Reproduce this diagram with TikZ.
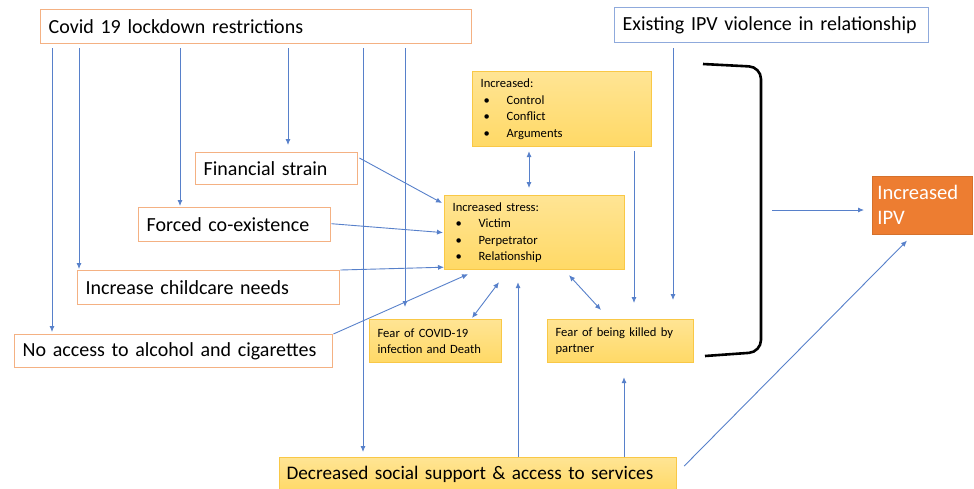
\documentclass[tikz,border=0pt]{standalone}
\usepackage{fontspec}
\setmainfont{Carlito}
\usepackage{tikz}
\usetikzlibrary{arrows.meta,positioning,calc}
\definecolor{linkblue}{HTML}{4472C4}
\definecolor{causeline}{HTML}{F4B183}
\definecolor{priorline}{HTML}{8FAADC}
\definecolor{factorfill}{HTML}{FFD966}
\definecolor{factorline}{HTML}{F9C846}
\definecolor{ipvfill}{HTML}{ED7D31}
\newcommand{\bitem}[1]{\hspace*{1.5pt}\makebox[11.5pt][l]{\textbullet}#1}

\begin{document}
\begin{tikzpicture}[
    x=0.5pt, y=-0.5pt,
    cause/.style={rectangle, draw=causeline, line width=0.7pt, fill=white, anchor=north west,
                  inner xsep=4pt, inner ysep=0pt, align=left, font=\fontsize{10}{12}\selectfont},
    factor/.style={rectangle, draw=factorline, line width=0.6pt, top color=factorfill!70,
                   bottom color=factorfill, anchor=north west, inner xsep=4pt, inner ysep=0pt,
                   align=left, font=\fontsize{6.3}{8.3}\selectfont},
    arrow/.style={-{Latex[length=3pt,width=2.6pt]}, linkblue!90, line width=0.45pt},
    dblarrow/.style={{Latex[length=3pt,width=2.6pt]}-{Latex[length=3pt,width=2.6pt]}, linkblue!90, line width=0.45pt}
]
\useasboundingbox (0,0) rectangle (974,488);

% causes from the lockdown
\node[cause, minimum width=215.5pt, minimum height=17pt, text width=207.5pt] (covid) at (40,9) {Covid 19 lockdown restrictions};
\node[cause, draw=priorline, minimum width=157pt, minimum height=17.5pt, text width=149pt] (prior) at (614,7) {Existing IPV violence in relationship};
\node[cause, minimum width=81pt, minimum height=16pt, text width=73pt] (finance) at (195,152) {Financial strain};
\node[cause, minimum width=96pt, minimum height=17pt, text width=88pt] (forced) at (138,207) {Forced co-existence};
\node[cause, minimum width=131pt, minimum height=17pt, text width=123pt] (childcare) at (77,270) {Increase childcare needs};
\node[cause, minimum width=159pt, minimum height=16.5pt, text width=151pt] (noaccess) at (14,334) {No access to alcohol and cigarettes};

% yellow factors
\node[factor, minimum width=89.5pt, minimum height=37.5pt, text width=81.5pt] (conflict) at (472,71)
    {Increased:\\\bitem{Control}\\\bitem{Conflict}\\\bitem{Arguments}};
\node[factor, minimum width=90pt, minimum height=37pt, text width=82pt] (stress) at (444,195)
    {Increased stress:\\\bitem{Victim}\\\bitem{Perpetrator}\\\bitem{Relationship}};
\node[factor, minimum width=66pt, minimum height=21.5pt, text width=58pt] (fearcovid) at (369,319)
    {Fear of COVID-19\\infection and Death};
\node[factor, minimum width=73pt, minimum height=21.5pt, text width=65pt] (fearkill) at (547,319)
    {Fear of being killed by\\partner};
\node[factor, minimum width=198.5pt, minimum height=17pt, text width=191.5pt, inner xsep=3.5pt,
      font=\fontsize{9.6}{12}\selectfont] (support) at (279,457) {Decreased social support \& access to services};
\node[rectangle, fill=ipvfill, draw=ipvfill!90!black, line width=0.3pt, anchor=north west, minimum width=49.5pt,
      minimum height=29pt, text width=45pt, inner xsep=2.5pt, inner ysep=0pt, align=left, text=white,
      font=\fontsize{10.3}{12.5}\selectfont] (ipv) at (872,176) {Increased\\IPV};

% drops from the lockdown box
\coordinate (c1) at ($(covid.south west)+(12,4)$);
\coordinate (c2) at ($(covid.south west)+(39,4)$);
\coordinate (c3) at ($(covid.south west)+(140,4)$);
\coordinate (c4) at ($(covid.south west)+(248,4)$);
\coordinate (c5) at ($(covid.south west)+(323,4)$);
\coordinate (c6) at ($(covid.south west)+(365,4)$);
\draw[arrow, shorten >=1pt] (c1) -- (c1 |- noaccess.north);
\draw[arrow, shorten >=0.5pt] (c2) -- (c2 |- childcare.north);
\draw[arrow, shorten >=0.5pt] (c3) -- (c3 |- forced.north);
\draw[arrow, shorten >=3.5pt] (c4) -- (c4 |- finance.north);
\draw[arrow, shorten >=2.5pt] (c5) -- (c5 |- support.north);
\draw[arrow, shorten >=6pt] (c6) -- (c6 |- fearcovid.north);

% into the stress box
\draw[arrow] ($(finance.north east)+(1,6)$) -- ($(stress.north west)+(-2,8)$);
\draw[arrow] ($(forced.east)+(0,-1)$) -- ($(stress.west)+(-1,0)$);
\draw[arrow] (childcare.north east) -- ($(stress.south west)+(0,-3)$);
\draw[arrow] (noaccess.north east) -- ($(stress.south west)+(24,4)$);

\coordinate (d1) at ($(stress.north west)+(85,0)$);
\draw[dblarrow, shorten <=2pt, shorten >=3.5pt] (d1 |- conflict.south) -- (d1);
\draw[dblarrow] ($(fearcovid.north west)+(103,-1)$) -- ($(stress.south west)+(55,12)$);
\draw[dblarrow] ($(stress.south west)+(125,5)$) -- ($(fearkill.north west)+(54,-9)$);

% towards fear of being killed
\coordinate (t1) at ($(conflict.south west)+(162,4)$);
\draw[arrow, shorten >=8pt] (t1) -- (t1 |- fearkill.north);
\coordinate (e1) at ($(prior.south west)+(59,5)$);
\draw[arrow, shorten >=9.5pt] (e1) -- (e1 |- fearkill.north);

% up from social support
\coordinate (u1) at ($(support.north west)+(239,0)$);
\coordinate (u2) at ($(support.north west)+(345,0)$);
\draw[arrow, shorten >=6pt] (u1) -- (u1 |- stress.south);
\draw[arrow, shorten >=7pt] (u2) -- (u2 |- fearkill.south);
\draw[arrow] ($(support.north east)+(7,9)$) -- ($(ipv.south west)+(35,6)$);

% bracket round the relationship factors
\draw[line width=1.3pt, rounded corners=6pt] (703,64) -- (761,67) -- (761,352) -- (705,356);
\coordinate (brk) at (772,210);
\draw[arrow, shorten >=4pt] (brk) -- (brk -| ipv.west);
\end{tikzpicture}
\end{document}
